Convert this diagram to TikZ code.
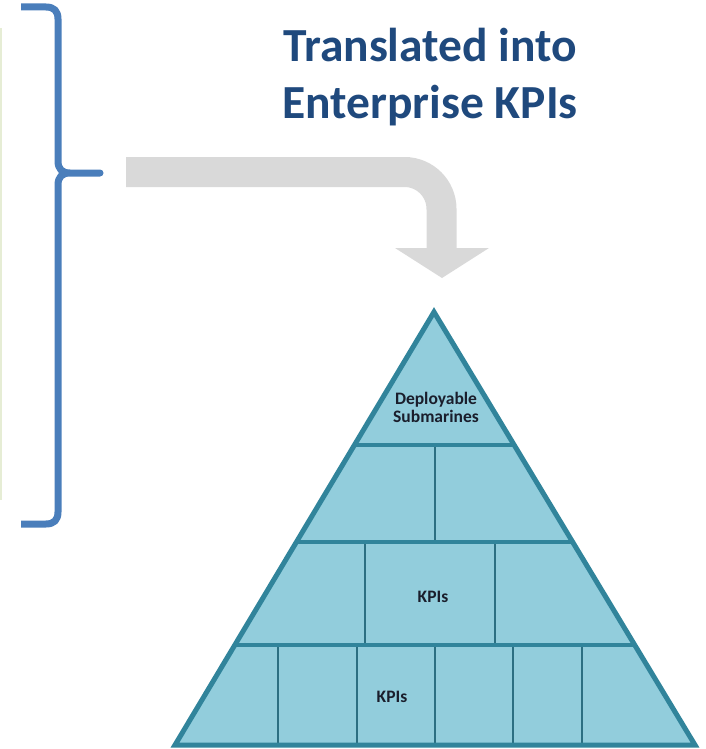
\documentclass[tikz,border=0pt]{standalone}
\usepackage{fontspec}
\setmainfont{Carlito}
\usetikzlibrary{calc}

\definecolor{bracecol}{HTML}{4A7EBB}
\definecolor{arrowgray}{HTML}{D9D9D9}
\definecolor{titleblue}{HTML}{1F497D}
\definecolor{pyrfill}{HTML}{92CDDC}
\definecolor{pyredge}{HTML}{31849B}
\definecolor{celledge}{HTML}{2C6F82}
\definecolor{boxline}{HTML}{E6EDD5}
\definecolor{labeltext}{HTML}{1A1E2C}

\begin{document}
\begin{tikzpicture}[x=1pt, y=-1pt, font=\bfseries]

    \def\edgethick{5pt}
    \def\rowthick{4pt}
    \def\cellthick{2pt}

    \useasboundingbox (0, 0) rectangle (706, 749);

    \coordinate (top) at (434, 312);
    \coordinate (bl) at (175, 745);
    \coordinate (br) at (695, 745);

    % edge of the box on the left
    \draw[boxline, line width=1.5pt] (1, 28) -- (1, 500);

    % brace
    \draw[bracecol, line width=7pt, line join=round]
        (21, 7) -- (46, 7) .. controls (54, 7) and (58, 11) .. (58, 19)
        -- (58, 161) .. controls (58, 169) and (62, 173) .. (70, 173) -- (100, 173)
        -- (70, 173) .. controls (62, 173) and (58, 177) .. (58, 185)
        -- (58, 512) .. controls (58, 520) and (54, 524) .. (46, 524) -- (21, 524);

    % title
    \node[titleblue, font=\fontsize{47.5}{56}\selectfont\bfseries, anchor=base] (title1) at (430, 62) {Translated into};
    \node[titleblue, font=\fontsize{47.5}{56}\selectfont\bfseries, anchor=base] (title2) at (430, 118) {Enterprise KPIs};

    % grey arrow
    \draw[arrowgray, line width=30pt, rounded corners=37pt] (126, 172) -- (441.5, 172) -- (441.5, 249);
    \fill[arrowgray] (395, 248) -- (489, 248) -- (442, 278) -- cycle;

    % pyramid
    \fill[pyrfill] (top) -- (bl) -- (br) -- cycle;

    \foreach \t [count=\i] in {0.307, 0.531, 0.769} {
        \coordinate (L\i) at ($(top)!\t!(bl)$);
        \coordinate (R\i) at ($(top)!\t!(br)$);
    }

    \draw[celledge, line width=\cellthick] (435, 445) -- (435, 542);
    \foreach \x in {365, 495}
        \draw[celledge, line width=\cellthick] (\x, 542) -- (\x, 645);
    \foreach \x in {278, 357, 435, 513, 582}
        \draw[celledge, line width=\cellthick] (\x, 645) -- (\x, 745);

    \foreach \i in {1, 2, 3}
        \draw[pyredge, line width=\rowthick] (L\i) -- (R\i);

    \draw[pyredge, line width=\edgethick, line join=miter] (top) -- (bl) -- (br) -- cycle;

    % labels
    \node[labeltext, align=center, font=\fontsize{17.5}{18}\selectfont\bfseries] (deploy) at (436, 407) {Deployable\\Submarines};
    \node[labeltext, font=\fontsize{17.5}{17}\selectfont\bfseries] (kpimid) at (433, 597) {KPIs};
    \node[labeltext, font=\fontsize{17.5}{17}\selectfont\bfseries] (kpilow) at (392, 697) {KPIs};

\end{tikzpicture}
\end{document}
